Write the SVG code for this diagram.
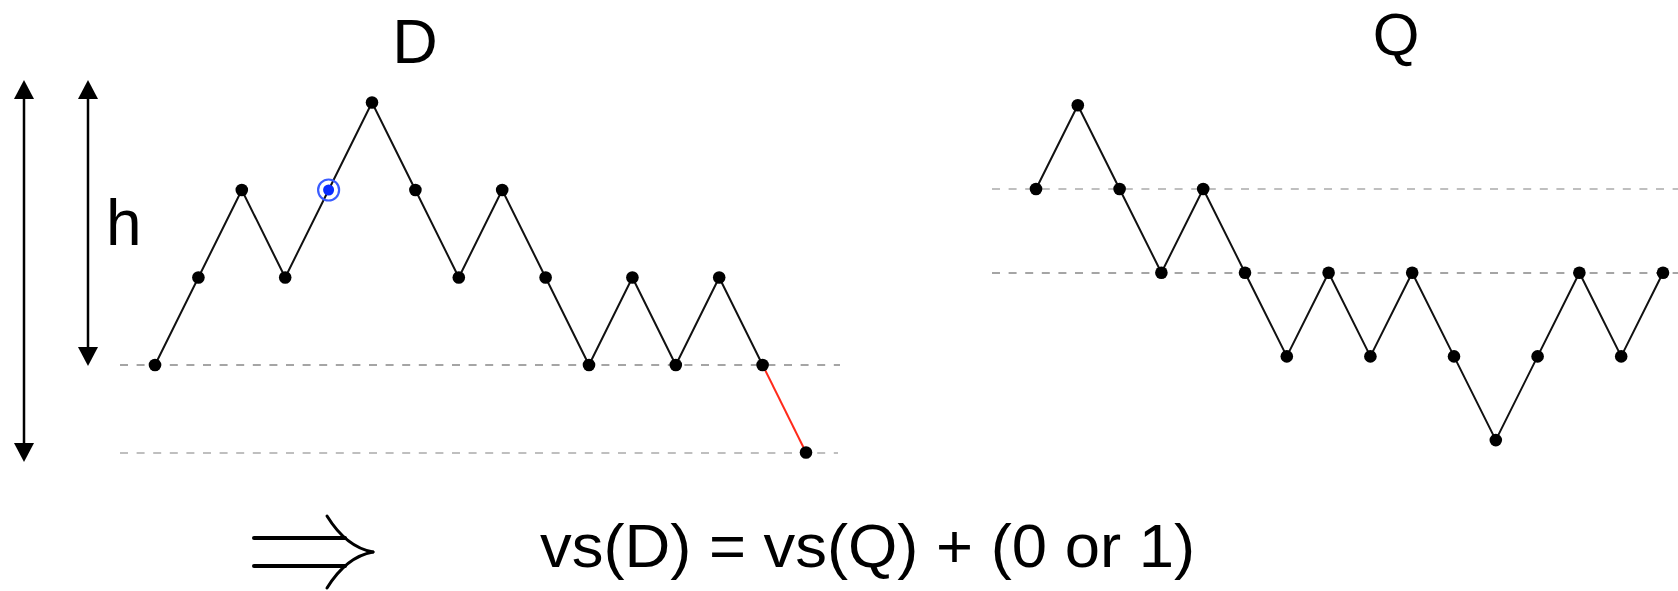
<svg xmlns="http://www.w3.org/2000/svg" xmlns:xlink="http://www.w3.org/1999/xlink" width="1678" height="591" viewBox="0 0 1678 591">
<style>
.lbl{font-family:"Liberation Sans",Arial,sans-serif;fill:#000}
.dot{fill:#000}
.seg{fill:none;stroke:#111;stroke-width:2;stroke-linejoin:round}
.dash1{stroke:#888;stroke-width:1.6;stroke-dasharray:8 8.6;fill:none}
.dash2{stroke:#aaa;stroke-width:1.6;stroke-dasharray:8 8.6;fill:none}
.ax{stroke:#000;stroke-width:2.5;fill:none}
.head{fill:#000}
</style>
<defs>
<circle id="pt" r="6.3" class="dot"/>
</defs>
<rect width="1678" height="591" fill="#fff"/>

<g id="connectors">
  <line class="dash1" x1="120" y1="365" x2="840" y2="365"/>
  <line class="dash2" x1="120" y1="453" x2="838" y2="453"/>
  <line class="dash2" x1="992" y1="189" x2="1678" y2="189"/>
  <line class="dash1" x1="992" y1="273" x2="1678" y2="273"/>
  <polyline class="seg" points="155,365 198.4,277.5 241.8,190 285.2,277.5 328.6,190 372,102.5 415.4,190 458.8,277.5 502.2,190 545.6,277.5 589,365 632.4,277.5 675.8,365 719.2,277.5 762.6,365"/>
  <line x1="762.6" y1="365" x2="806" y2="452.5" stroke="#ff2a1a" stroke-width="2"/>
  <polyline class="seg" points="1036,189 1077.8,105.3 1119.6,189 1161.4,272.7 1203.2,189 1245,272.7 1286.8,356.4 1328.6,272.7 1370.4,356.4 1412.2,272.7 1454,356.4 1495.8,440.1 1537.6,356.4 1579.4,272.7 1621.2,356.4 1663,272.7"/>
  <line class="ax" x1="24" y1="97" x2="24" y2="445"/>
  <polygon class="head" points="24,80 14,99 34,99"/>
  <polygon class="head" points="24,462 14,443 34,443"/>
  <line class="ax" x1="88" y1="97" x2="88" y2="349"/>
  <polygon class="head" points="88,80 78,99 98,99"/>
  <polygon class="head" points="88,366 78,347 98,347"/>
  <g id="implies" fill="none" stroke="#000" stroke-linecap="round">
    <line x1="254" y1="538" x2="345" y2="538" stroke-width="4"/>
    <line x1="254" y1="566" x2="345" y2="566" stroke-width="4"/>
    <path d="M327,516 C340,537 356,549 373,552" stroke-width="3"/>
    <path d="M327,588 C340,567 356,555 373,552" stroke-width="3"/>
  </g>
</g>

<g id="D-nodes">
  <g id="d0"><use xlink:href="#pt" x="155" y="365"/></g>
  <g id="d1"><use xlink:href="#pt" x="198.4" y="277.5"/></g>
  <g id="d2"><use xlink:href="#pt" x="241.8" y="190"/></g>
  <g id="d3"><use xlink:href="#pt" x="285.2" y="277.5"/></g>
  <g id="d4"><circle cx="328.6" cy="190" r="10.5" fill="none" stroke="#3a5cff" stroke-width="2.2"/><circle cx="328.6" cy="190" r="5.5" fill="#0a2cff"/></g>
  <g id="d5"><use xlink:href="#pt" x="372" y="102.5"/></g>
  <g id="d6"><use xlink:href="#pt" x="415.4" y="190"/></g>
  <g id="d7"><use xlink:href="#pt" x="458.8" y="277.5"/></g>
  <g id="d8"><use xlink:href="#pt" x="502.2" y="190"/></g>
  <g id="d9"><use xlink:href="#pt" x="545.6" y="277.5"/></g>
  <g id="d10"><use xlink:href="#pt" x="589" y="365"/></g>
  <g id="d11"><use xlink:href="#pt" x="632.4" y="277.5"/></g>
  <g id="d12"><use xlink:href="#pt" x="675.8" y="365"/></g>
  <g id="d13"><use xlink:href="#pt" x="719.2" y="277.5"/></g>
  <g id="d14"><use xlink:href="#pt" x="762.6" y="365"/></g>
  <g id="d15"><use xlink:href="#pt" x="806" y="452.5"/></g>
</g>

<g id="Q-nodes">
  <g id="q0"><use xlink:href="#pt" x="1036" y="189"/></g>
  <g id="q1"><use xlink:href="#pt" x="1077.8" y="105.3"/></g>
  <g id="q2"><use xlink:href="#pt" x="1119.6" y="189"/></g>
  <g id="q3"><use xlink:href="#pt" x="1161.4" y="272.7"/></g>
  <g id="q4"><use xlink:href="#pt" x="1203.2" y="189"/></g>
  <g id="q5"><use xlink:href="#pt" x="1245" y="272.7"/></g>
  <g id="q6"><use xlink:href="#pt" x="1286.8" y="356.4"/></g>
  <g id="q7"><use xlink:href="#pt" x="1328.6" y="272.7"/></g>
  <g id="q8"><use xlink:href="#pt" x="1370.4" y="356.4"/></g>
  <g id="q9"><use xlink:href="#pt" x="1412.2" y="272.7"/></g>
  <g id="q10"><use xlink:href="#pt" x="1454" y="356.4"/></g>
  <g id="q11"><use xlink:href="#pt" x="1495.8" y="440.1"/></g>
  <g id="q12"><use xlink:href="#pt" x="1537.6" y="356.4"/></g>
  <g id="q13"><use xlink:href="#pt" x="1579.4" y="272.7"/></g>
  <g id="q14"><use xlink:href="#pt" x="1621.2" y="356.4"/></g>
  <g id="q15"><use xlink:href="#pt" x="1663" y="272.7"/></g>
</g>

<g id="labels">
  <text class="lbl" x="415" y="63" font-size="63" text-anchor="middle">D</text>
  <text class="lbl" x="1396" y="55" font-size="60" text-anchor="middle">Q</text>
  <text class="lbl" x="106" y="245" font-size="64">h</text>
  <text class="lbl" x="540" y="567" font-size="62" textLength="655" lengthAdjust="spacingAndGlyphs">vs(D) = vs(Q) + (0 or 1)</text>
</g>
</svg>
